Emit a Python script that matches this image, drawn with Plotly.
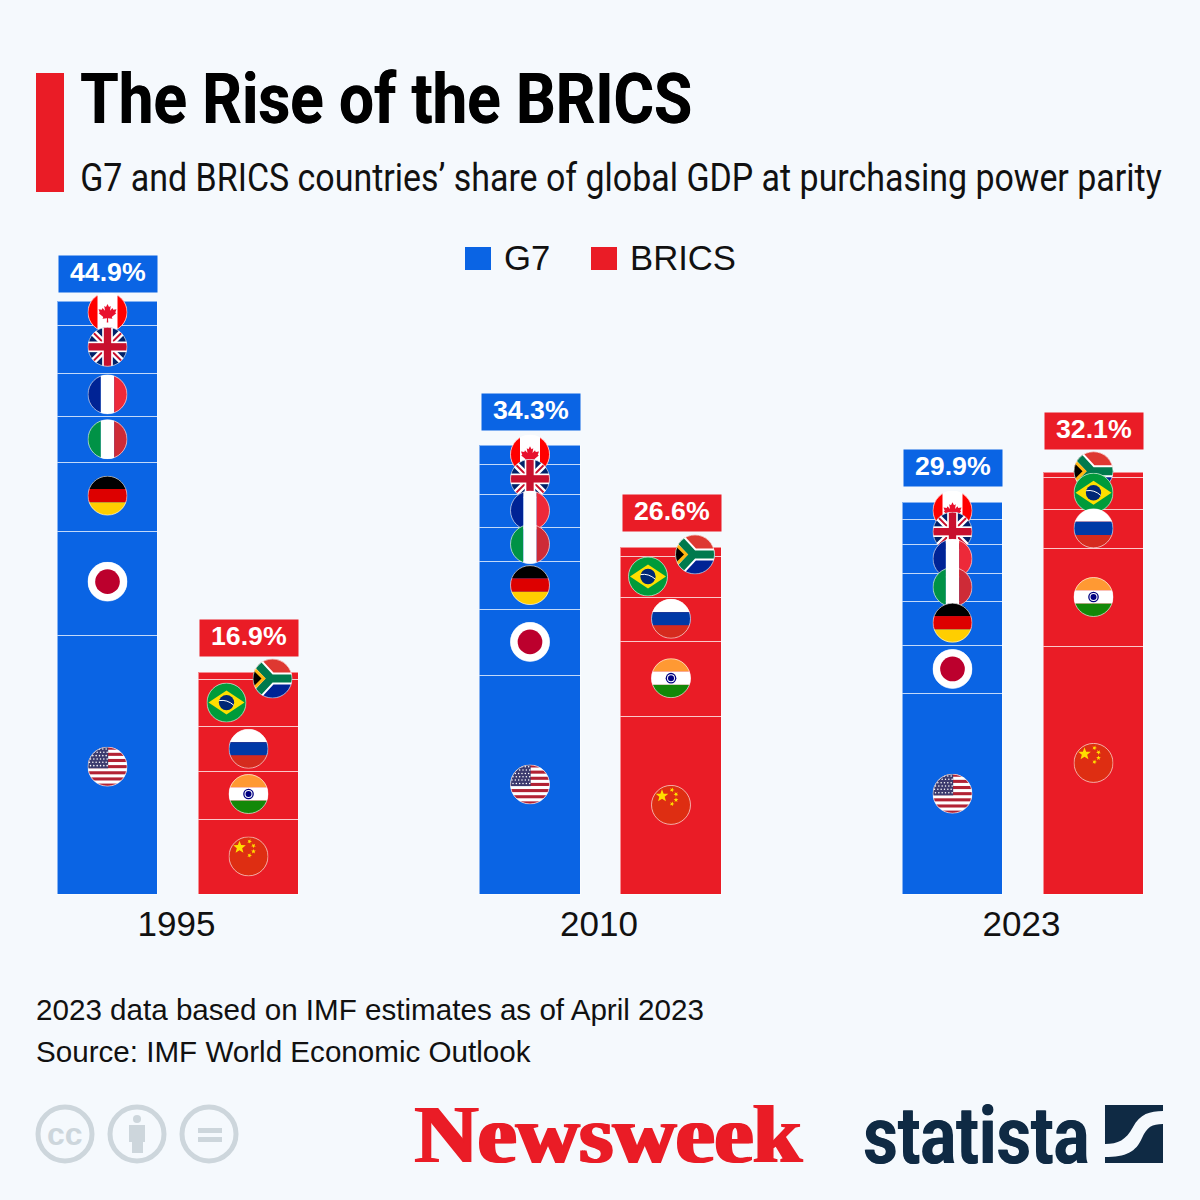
import base64
import json
import math
import plotly.graph_objects as go

# ---------- data (share of global GDP at PPP, %; segment heights as drawn in the picture) ----------
years = ["1995", "2010", "2023"]
g7_countries = ["United States", "Japan", "Germany", "Italy", "France", "United Kingdom", "Canada"]
g7_values = {
    "United States": [19.6, 16.6, 15.2],
    "Japan": [7.9, 5.0, 3.7],
    "Germany": [5.2, 3.6, 3.3],
    "Italy": [3.5, 2.6, 2.1],
    "France": [3.3, 2.5, 2.2],
    "United Kingdom": [3.6, 2.3, 1.9],
    "Canada": [1.8, 1.4, 1.3],
}
brics_countries = ["China", "India", "Russia", "Brazil", "South Africa"]
brics_values = {
    "China": [5.7, 13.5, 18.8],
    "India": [3.6, 5.7, 7.4],
    "Russia": [3.4, 3.3, 3.0],
    "Brazil": [3.6, 3.1, 2.4],
    "South Africa": [0.5, 0.7, 0.4],
}
g7_totals = [44.9, 34.3, 29.9]
brics_totals = [16.9, 26.6, 32.1]

# ---------- layout constants ----------
W = H = 1200
BASE_PX = 895.0
TOP_PX = 236.0
PX_PER_PCT = 13.2
GROUP_STEP = 422.5
FIRST_GROUP = 178.5
BAR_W = 100.5
OFFSET = 70.5 / GROUP_STEP
BLUE = "#0A64E4"
RED = "#EA1C26"
BG = "#F5F9FD"
NAVY = "#0F2A44"
GREY = "#CDD6DC"
FLAG_PX = 40
G7_LABEL_GAPS = [9, 15, 16]
BRICS_LABEL_GAPS = [16, 16, 23]


def fx(p):
    return p / W


def fy(p):
    return (BASE_PX - p) / (BASE_PX - TOP_PX)


def path(cmds):
    out = []
    for c in cmds:
        if isinstance(c, str):
            out.append(c)
        else:
            out.append(" ".join(f"{fx(c[i]):.5f},{fy(c[i + 1]):.5f}" for i in range(0, len(c), 2)))
    return " ".join(out)


# ---------- flags ----------
def star(cx, cy, r, color, rot=0):
    pts = []
    for i in range(10):
        a = math.radians(-90 + rot + i * 36)
        rr = r if i % 2 == 0 else r * 0.42
        pts.append(f"{cx + rr * math.cos(a):.1f},{cy + rr * math.sin(a):.1f}")
    return f'<polygon points="{" ".join(pts)}" fill="{color}"/>'


def rect(x, y, w, h, c):
    return f'<rect x="{x}" y="{y}" width="{w}" height="{h}" fill="{c}"/>'


def us_flag():
    s = rect(0, 0, 120, 120, "#fff")
    for i in range(0, 13, 2):
        s += rect(0, i * 120 / 13, 120, 120 / 13, "#B22234")
    s += rect(0, 0, 62, 65, "#3C3B6E")
    for r in range(6):
        for c in range(6):
            s += f'<circle cx="{6 + c * 10 + (r % 2) * 3}" cy="{7 + r * 10}" r="2.3" fill="#fff"/>'
    return s


MAPLE = ("60,26 66,38 73,34 70,53 80,42 83,49 96,47 91,60 95,63 77,78 80,85 62,83 "
         "63,100 57,100 58,83 40,85 43,78 25,63 29,60 24,47 37,49 40,42 50,53 47,34 54,38")

FLAGS = {
    "Canada": rect(0, 0, 120, 120, "#fff") + rect(0, 0, 30, 120, "#F00") + rect(90, 0, 30, 120, "#F00")
    + f'<polygon points="{MAPLE}" fill="#E8112D" transform="translate(15 16) scale(.75)"/>',
    "United Kingdom": rect(0, 0, 120, 120, "#012169")
    + '<path d="M0 0L120 120M120 0L0 120" stroke="#fff" stroke-width="20"/>'
    + '<path d="M0 0L120 120M120 0L0 120" stroke="#C8102E" stroke-width="6"/>'
    + rect(44, 0, 32, 120, "#fff") + rect(0, 44, 120, 32, "#fff")
    + rect(49, 0, 22, 120, "#C8102E") + rect(0, 49, 120, 22, "#C8102E"),
    "France": rect(0, 0, 40, 120, "#002395") + rect(40, 0, 40, 120, "#fff") + rect(80, 0, 40, 120, "#ED2939"),
    "Italy": rect(0, 0, 40, 120, "#009246") + rect(40, 0, 40, 120, "#fff") + rect(80, 0, 40, 120, "#CE2B37"),
    "Germany": rect(0, 0, 120, 40, "#000") + rect(0, 40, 120, 40, "#DD0000") + rect(0, 80, 120, 40, "#FFCE00"),
    "Japan": rect(0, 0, 120, 120, "#fff") + '<circle cx="60" cy="60" r="37" fill="#BC002D"/>',
    "United States": us_flag(),
    "China": rect(0, 0, 120, 120, "#DE2E12") + star(33, 33, 20, "#FFDE00")
    + star(63, 15, 7.5, "#FFDE00", 20) + star(75, 28, 7.5, "#FFDE00", 40)
    + star(75, 45, 7.5, "#FFDE00") + star(63, 57, 7.5, "#FFDE00", 20),
    "India": rect(0, 0, 120, 40, "#FF9933") + rect(0, 40, 120, 40, "#fff") + rect(0, 80, 120, 40, "#138808")
    + '<circle cx="60" cy="60" r="16" fill="#000080"/><circle cx="60" cy="60" r="12" fill="#fff"/>'
    + '<circle cx="60" cy="60" r="9" fill="#000080"/>',
    "Russia": rect(0, 0, 120, 40, "#fff") + rect(0, 40, 120, 40, "#0039A6") + rect(0, 80, 120, 40, "#D52B1E"),
    "Brazil": rect(0, 0, 120, 120, "#009B3A") + '<polygon points="6,60 60,24 114,60 60,96" fill="#FEDF00"/>'
    + '<circle cx="60" cy="60" r="23" fill="#002776"/>'
    + '<path d="M38 54Q62 50 82 68" stroke="#fff" stroke-width="3" fill="none"/>',
    "South Africa": rect(0, 0, 120, 60, "#DE3831") + rect(0, 60, 120, 60, "#002395")
    + '<path d="M-5 -5L55 60L-5 125M55 60H125" stroke="#fff" stroke-width="36" fill="none"/>'
    + '<path d="M-5 -5L55 60L-5 125M55 60H125" stroke="#007A4D" stroke-width="24" fill="none"/>'
    + '<polygon points="0,20 40,60 0,100" fill="#FFB612"/><polygon points="0,33 27,60 0,87" fill="#000"/>',
}


def flag_uri(name):
    svg = (
        '<svg xmlns="http://www.w3.org/2000/svg" width="120" height="120" viewBox="0 0 120 120">'
        '<defs><clipPath id="c"><circle cx="60" cy="60" r="59"/></clipPath></defs>'
        f'<g clip-path="url(#c)">{FLAGS[name]}</g>'
        '<circle cx="60" cy="60" r="58.5" fill="none" stroke="#fff" stroke-opacity=".75" stroke-width="2.5"/></svg>'
    )
    return "data:image/svg+xml;base64," + base64.b64encode(svg.encode()).decode()


# ---------- figure ----------
fig = go.Figure()
line = dict(color="rgba(255,255,255,0.5)", width=1.2)
g7_x = [i - OFFSET for i in range(len(years))]
brics_x = [i + OFFSET for i in range(len(years))]

for name in g7_countries:
    fig.add_bar(x=g7_x, y=g7_values[name], name=name, width=BAR_W / GROUP_STEP,
                marker=dict(color=BLUE, line=line), showlegend=False)
for name in brics_countries:
    fig.add_bar(x=brics_x, y=brics_values[name], name=name, width=BAR_W / GROUP_STEP,
                marker=dict(color=RED, line=line), showlegend=False)

images = []
annotations = []
squeeze = {}


def add_flags(countries, values, xs, shift, nudge):
    collected = []
    for g, x in enumerate(xs):
        base = 0.0
        for name in countries:
            v = values[name][g]
            dx = (shift.get(name, [0, 0, 0])[g] - 0.5) / GROUP_STEP
            dy = (nudge.get(name, [0, 0, 0])[g] + 1) / PX_PER_PCT
            collected.append(dict(
                source=flag_uri(name), xref="x", yref="y", x=x + dx, y=base + v / 2 + dy,
                sizex=FLAG_PX / GROUP_STEP, sizey=FLAG_PX / PX_PER_PCT,
                xanchor="center", yanchor="middle", sizing="stretch", layer="above"))
            base += v
    collected.reverse()  # lower flags are painted on top of the ones above them
    images.extend(collected)


add_flags(g7_countries, g7_values, g7_x, {},
          {"United States": [-2, 0, 0], "United Kingdom": [2, 0, 0], "Japan": [1.5, 0, 0],
           "Canada": [1, 0, 0], "Germany": [1, 0, 0]})
add_flags(brics_countries, brics_values, brics_x,
          {"South Africa": [24, 24, 0], "Brazil": [-22, -23, 0]},
          {"China": [0, 0, 7], "South Africa": [-3, -3, 3], "India": [1, 0, 0]})

for xs, countries, values, totals, gaps, color in (
        (g7_x, g7_countries, g7_values, g7_totals, G7_LABEL_GAPS, BLUE),
        (brics_x, brics_countries, brics_values, brics_totals, BRICS_LABEL_GAPS, RED)):
    for g, (x, t, gap) in enumerate(zip(xs, totals, gaps)):
        top = sum(values[c][g] for c in countries)
        annotations.append(dict(
            x=x, y=top, xref="x", yref="y", text=f"{t:.1f}%", showarrow=False,
            yanchor="bottom", yshift=gap, width=98, height=36, bgcolor=color, borderpad=0,
            font=dict(family="Liberation Sans", size=26.7, weight=700, color="#fff"), valign="middle"))


def text(px, py, s, size, color="#111", family="Liberation Sans", xanchor="left", shadow=None,
         weight=None, fit=None):
    f = dict(family=family, size=size, color=color)
    if shadow:
        f["shadow"] = shadow
    if weight:
        f["weight"] = weight
    if fit:
        squeeze[s] = fit
    annotations.append(dict(x=fx(px), y=fy(py), xref="paper", yref="paper", text=s, showarrow=False,
                            xanchor=xanchor, yanchor="middle", font=f, borderpad=0, borderwidth=0))


text(80, 99.5, "The Rise of the BRICS", 70, "#000", "Roboto", weight=700, shadow="0.6px 0 0 #000", fit=612)
text(80, 178, "G7 and BRICS countries’ share of global GDP at purchasing power parity", 39, "#111",
     "Roboto", fit=1082)
text(504, 258, "G7", 34.7)
text(630, 258, "BRICS", 34.7)
text(36, 1009.5, "2023 data based on IMF estimates as of April 2023", 29.6)
text(36, 1051.5, "Source: IMF World Economic Outlook", 29.6)
text(415, 1134, "Newsweek", 82, RED, "Liberation Serif", weight=700,
     shadow="1.8px 0 0 #EA1C26, -1.8px 0 0 #EA1C26", fit=387)
text(863, 1136, "statista", 80, NAVY, "Roboto", weight=700, shadow="0.8px 0 0 #0F2A44", fit=226)
text(65, 1134, "cc", 32, GREY, "Liberation Sans", xanchor="center", weight=700)


def box(x0, y0, x1, y1, color):
    return dict(type="rect", xref="paper", yref="paper", x0=fx(x0), x1=fx(x1), y0=fy(y0), y1=fy(y1),
                fillcolor=color, line=dict(width=0), layer="above")


def ring(cx, cy, r):
    return dict(type="circle", xref="paper", yref="paper", x0=fx(cx - r), x1=fx(cx + r),
                y0=fy(cy - r), y1=fy(cy + r), line=dict(color=GREY, width=5), fillcolor="rgba(0,0,0,0)")


shapes = [
    box(36, 73, 64, 192, RED),
    box(465, 247, 491, 270, BLUE),
    box(591, 247, 617, 270, RED),
    ring(65, 1134, 27), ring(137, 1134, 27), ring(209, 1134, 27),
    dict(type="circle", xref="paper", yref="paper", x0=fx(133), x1=fx(141), y0=fy(1115), y1=fy(1123),
         fillcolor=GREY, line=dict(width=0)),
    box(129, 1125, 145, 1142, GREY),
    box(132, 1142, 143, 1153, GREY),
    box(198, 1128, 222, 1133, GREY),
    box(198, 1137, 222, 1142, GREY),
    dict(type="path", xref="paper", yref="paper", fillcolor=NAVY, line=dict(width=0), path=path([
        "M", (1105, 1105), "L", (1163, 1105), "L", (1163, 1111),
        "C", (1150, 1111, 1140, 1114, 1133, 1127), "C", (1126, 1140, 1118, 1144, 1105, 1144), "Z"])),
    dict(type="path", xref="paper", yref="paper", fillcolor=NAVY, line=dict(width=0), path=path([
        "M", (1163, 1124),
        "C", (1152, 1124, 1147, 1127, 1142, 1138), "C", (1136, 1152, 1126, 1157, 1105, 1157),
        "L", (1105, 1163), "L", (1163, 1163), "Z"])),
]

fig.update_layout(
    width=W, height=H, autosize=False, barmode="stack", bargap=0,
    paper_bgcolor=BG, plot_bgcolor=BG, showlegend=False,
    margin=dict(l=0, r=0, t=TOP_PX, b=H - BASE_PX, pad=0),
    font=dict(family="Liberation Sans", color="#111"),
    images=images, annotations=annotations, shapes=shapes,
    xaxis=dict(range=[-FIRST_GROUP / GROUP_STEP, (W - FIRST_GROUP) / GROUP_STEP],
               tickmode="array", tickvals=list(range(len(years))), ticktext=years,
               tickfont=dict(size=35, color="#111"), ticks="outside", ticklen=1, ticklabelstandoff=-3,
               ticklabelshift=-2,
               tickcolor="rgba(0,0,0,0)", showgrid=False, zeroline=False, showline=False, fixedrange=True),
    yaxis=dict(range=[0, (BASE_PX - TOP_PX) / PX_PER_PCT], visible=False, fixedrange=True),
)

# The condensed display faces of the original are not installed: scale the real text to its width,
# and sit the value labels a little above the middle of their boxes, as in the original.
post = """
document.body.style.margin='0';document.body.style.background='#F5F9FD';
var fit=%s;
document.querySelectorAll('text.annotation-text').forEach(function(t){
  var s=t.getAttribute('data-unformatted');
  if(/%%$/.test(s)){t.setAttribute('y',parseFloat(t.getAttribute('y')||0)-2.5);return;}
  var L=fit[s];
  if(!L)return;
  var b=t.getBBox(), k=L/b.width;
  t.setAttribute('transform','translate('+b.x+' 0) scale('+k+' 1) translate('+(-b.x)+' 0)');
  var a=t.closest('.annotation');
  if(a){a.querySelectorAll('rect').forEach(function(q){q.setAttribute('width',L);});}
  var c=t.closest('[clip-path]');
  if(c){c.removeAttribute('clip-path');}
});
""" % json.dumps(squeeze)

fig.write_html("out.html", config={"displayModeBar": False}, post_script=post)
